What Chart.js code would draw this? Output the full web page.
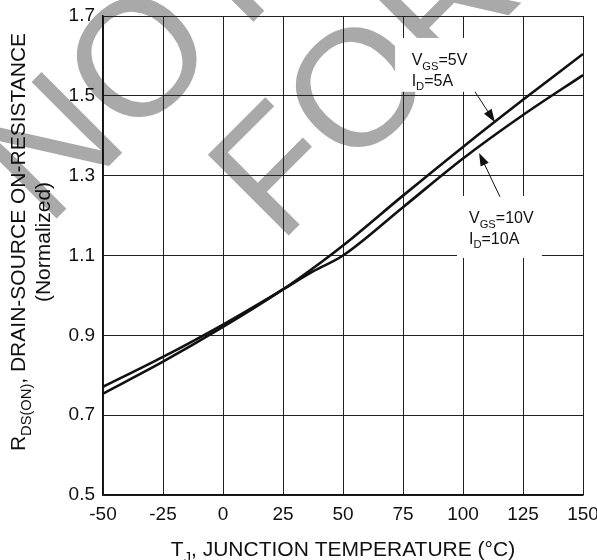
<!DOCTYPE html>
<html>
<head>
<meta charset="utf-8">
<script src="https://cdn.jsdelivr.net/npm/chart.js@4.4.1/dist/chart.umd.min.js"></script>
<style>
  html, body { margin: 0; padding: 0; background: #fff; }
  #wrap { width: 597px; height: 560px; }
</style>
</head>
<body>
<div id="wrap"><canvas id="rdsChart"></canvas></div>
<script>
// R_DS(on) vs junction temperature
const temps = [-50, -25, 0, 25, 37.5, 50, 75, 100, 125, 150];
const rds5V = [0.754, 0.834, 0.921, 1.015, 1.068, 1.125, 1.25, 1.372, 1.49, 1.605];
const rds10V = [0.771, 0.846, 0.927, 1.015, 1.06, 1.1, 1.221, 1.343, 1.452, 1.552];
const xTicks = [-50, -25, 0, 25, 50, 75, 100, 125, 150];
const yTicks = [0.5, 0.7, 0.9, 1.1, 1.3, 1.5, 1.7];

const FAMILY = "'Liberation Sans', Arial, sans-serif";
Chart.defaults.font.family = FAMILY;
Chart.defaults.color = '#111';

// callouts, in data units (T, Rds)
const callouts = [
  {
    box: [71.7, 1.645, 106.5, 1.51],
    at: [78.6, 1.577],
    lines: [[{t: 'V'}, {t: 'GS', sub: true}, {t: '=5V'}], [{t: 'I'}, {t: 'D', sub: true}, {t: '=5A'}]],
    arrow: [105, 1.51, 113.3, 1.434]
  },
  {
    box: [97.5, 1.249, 132.9, 1.094],
    at: [102.5, 1.181],
    lines: [[{t: 'V'}, {t: 'GS', sub: true}, {t: '=10V'}], [{t: 'I'}, {t: 'D', sub: true}, {t: '=10A'}]],
    arrow: [115.4, 1.247, 106.7, 1.357]
  }
];

function richWidth(ctx, parts, size) {
  let w = 0;
  parts.forEach(p => {
    ctx.font = (p.sub ? size * 0.7 : size) + 'px ' + FAMILY;
    w += ctx.measureText(p.t).width;
  });
  return w;
}

function drawRich(ctx, parts, x, y, size) {
  let cx = x;
  parts.forEach(p => {
    const s = p.sub ? size * 0.7 : size;
    ctx.font = s + 'px ' + FAMILY;
    ctx.fillText(p.t, cx, y + (p.sub ? size * 0.3 : 0));
    cx += ctx.measureText(p.t).width;
  });
}

const watermark = {
  id: 'watermark',
  beforeDraw(chart) {
    const ctx = chart.ctx;
    ctx.save();
    ctx.fillStyle = '#a9a9a9';
    ctx.font = '166px ' + FAMILY;
    ctx.textBaseline = 'alphabetic';
    ctx.textAlign = 'left';
    [['NOT RECOMMENDED', 47, 228], ['FOR NEW DESIGN', 279, 245]].forEach(([s, x, y]) => {
      ctx.save();
      ctx.translate(x, y);
      ctx.rotate(-Math.PI / 4);
      ctx.fillText(s, 0, 0);
      ctx.restore();
    });
    ctx.restore();
  }
};

const callout = {
  id: 'callout',
  beforeDatasetsDraw(chart) {
    const ctx = chart.ctx, xs = chart.scales.x, ys = chart.scales.y;
    ctx.save();
    ctx.fillStyle = '#fff';
    callouts.forEach(c => {
      const x0 = xs.getPixelForValue(c.box[0]), y0 = ys.getPixelForValue(c.box[1]);
      const x1 = xs.getPixelForValue(c.box[2]), y1 = ys.getPixelForValue(c.box[3]);
      ctx.fillRect(x0, y0, x1 - x0, y1 - y0);
    });
    ctx.restore();
  },
  afterDatasetsDraw(chart) {
    const ctx = chart.ctx, xs = chart.scales.x, ys = chart.scales.y;
    ctx.save();
    ctx.fillStyle = '#111';
    ctx.strokeStyle = '#111';
    ctx.textBaseline = 'alphabetic';
    callouts.forEach(c => {
      const tx = xs.getPixelForValue(c.at[0]), ty = ys.getPixelForValue(c.at[1]);
      c.lines.forEach((ln, i) => drawRich(ctx, ln, tx, ty + i * 20.5, 16));
      const ax = xs.getPixelForValue(c.arrow[0]), ay = ys.getPixelForValue(c.arrow[1]);
      const bx = xs.getPixelForValue(c.arrow[2]), by = ys.getPixelForValue(c.arrow[3]);
      const ang = Math.atan2(by - ay, bx - ax);
      ctx.lineWidth = 1;
      ctx.beginPath();
      ctx.moveTo(ax, ay);
      ctx.lineTo(bx - 10 * Math.cos(ang), by - 10 * Math.sin(ang));
      ctx.stroke();
      ctx.beginPath();
      ctx.moveTo(bx, by);
      ctx.lineTo(bx - 13 * Math.cos(ang) + 4.5 * Math.sin(ang), by - 13 * Math.sin(ang) - 4.5 * Math.cos(ang));
      ctx.lineTo(bx - 13 * Math.cos(ang) - 4.5 * Math.sin(ang), by - 13 * Math.sin(ang) + 4.5 * Math.cos(ang));
      ctx.closePath();
      ctx.fill();
    });
    ctx.restore();
  },
  afterDraw(chart) {
    const ctx = chart.ctx, area = chart.chartArea;
    ctx.save();
    ctx.fillStyle = '#111';
    ctx.textBaseline = 'alphabetic';
    // x title
    const xt = [{t: 'T'}, {t: 'J', sub: true}, {t: ', JUNCTION TEMPERATURE (\u00B0C)'}];
    const xw = richWidth(ctx, xt, 21);
    drawRich(ctx, xt, (area.left + area.right) / 2 - xw / 2, 556, 21);
    // y title, two lines
    const y1 = [{t: 'R'}, {t: 'DS(ON)', sub: true}, {t: ', DRAIN-SOURCE ON-RESISTANCE'}];
    const y2 = [{t: '(Normalized)'}];
    [[y1, 25], [y2, 50]].forEach(([parts, bx]) => {
      const w = richWidth(ctx, parts, 21);
      ctx.save();
      ctx.translate(bx, 242);
      ctx.rotate(-Math.PI / 2);
      drawRich(ctx, parts, -w / 2, 0, 21);
      ctx.restore();
    });
    ctx.restore();
  }
};

new Chart(document.getElementById('rdsChart'), {
  type: 'line',
  data: {
    datasets: [
      {
        label: 'VGS=5V, ID=5A',
        data: temps.map((t, i) => ({x: t, y: rds5V[i]})),
        borderColor: '#111',
        borderWidth: 2.6,
        pointRadius: 0,
        cubicInterpolationMode: 'monotone',
        fill: false
      },
      {
        label: 'VGS=10V, ID=10A',
        data: temps.map((t, i) => ({x: t, y: rds10V[i]})),
        borderColor: '#111',
        borderWidth: 2.6,
        pointRadius: 0,
        cubicInterpolationMode: 'monotone',
        fill: false
      }
    ]
  },
  options: {
    responsive: true,
    maintainAspectRatio: false,
    animation: false,
    layout: { padding: { left: 0, top: 16, right: 14, bottom: 0 } },
    plugins: { legend: { display: false }, tooltip: { enabled: false } },
    scales: {
      x: {
        type: 'linear',
        min: -50,
        max: 150,
        afterBuildTicks: s => { s.ticks = xTicks.map(v => ({value: v})); },
        afterFit: s => { s.height = 65; s.paddingLeft = 0; s.paddingRight = 0; },
        grid: { color: '#222', lineWidth: 1, drawTicks: false },
        border: { color: '#111', width: 1.5 },
        ticks: { padding: 8, font: { size: 19 }, color: '#111', maxRotation: 0, callback: v => String(v) }
      },
      y: {
        min: 0.5,
        max: 1.7,
        afterBuildTicks: s => { s.ticks = yTicks.map(v => ({value: v})); },
        afterFit: s => { s.width = 103; s.paddingTop = 0; s.paddingBottom = 0; },
        grid: { color: '#222', lineWidth: 1, drawTicks: false },
        border: { color: '#111', width: 1.5 },
        ticks: { padding: 8, font: { size: 19 }, color: '#111', callback: v => v.toFixed(1) }
      }
    }
  },
  plugins: [watermark, callout]
});
</script>
</body>
</html>
